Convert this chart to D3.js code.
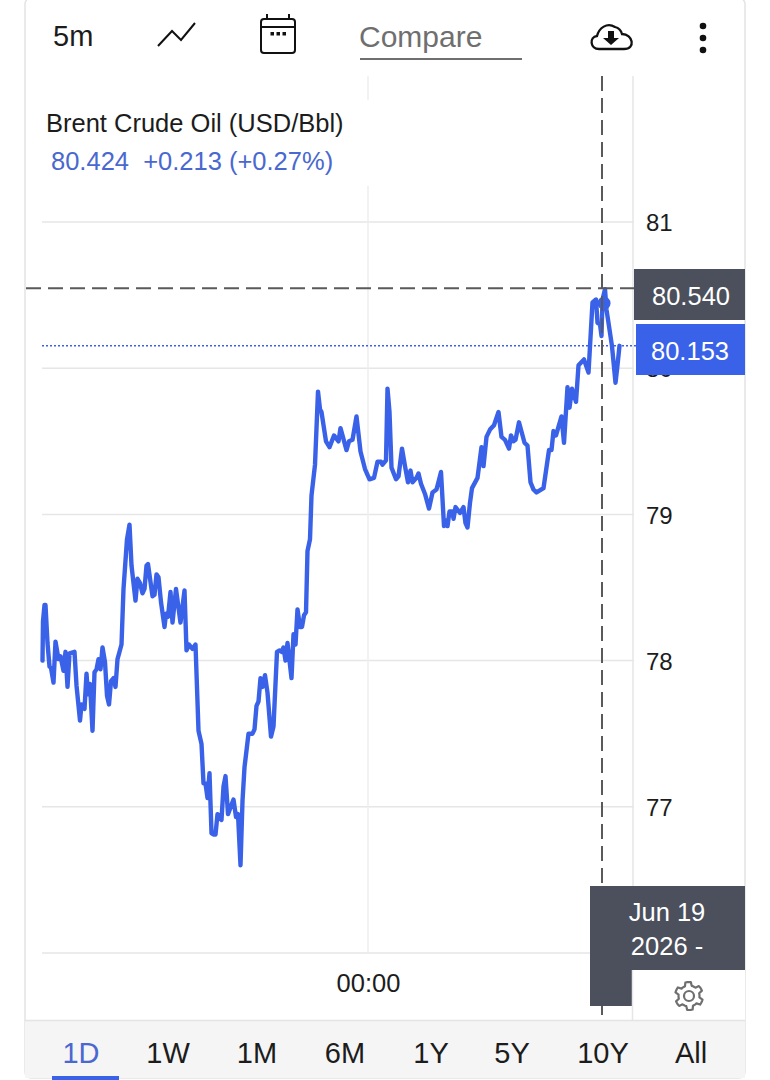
<!DOCTYPE html>
<html><head><meta charset="utf-8">
<script src="https://cdn.jsdelivr.net/npm/d3@7"></script>
<style>
html,body{margin:0;padding:0;background:#fff;overflow:hidden}
svg{display:block}
text{font-family:"Liberation Sans",Arial,sans-serif}
</style></head><body>
<svg id="c" width="770" height="1080"></svg>
<script>
// minutes relative to the 00:00 tick
const minutes = [-651,-650,-647,-645,-641,-637,-634,-629,-625,-619,-615,-609,-605,-601,-597,-587,-583,-576,-573,-567,-563,-560,-556,-551,-547,-543,-539,-535,-531,-526,-522,-518,-514,-509,-505,-501,-493,-489,-482,-477,-473,-465,-461,-456,-451,-447,-443,-440,-431,-427,-423,-419,-414,-407,-404,-400,-395,-391,-384,-375,-367,-363,-358,-351,-345,-339,-333,-329,-325,-321,-317,-313,-309,-305,-301,-293,-289,-285,-280,-269,-264,-260,-255,-251,-247,-239,-231,-227,-223,-219,-215,-211,-206,-201,-194,-189,-182,-177,-173,-169,-165,-161,-153,-149,-145,-141,-136,-132,-128,-124,-121,-116,-113,-106,-100,-96,-93,-84,-77,-68,-59,-55,-43,-38,-31,-23,-15,-6,3,12,19,26,29,36,39,43,47,56,61,68,74,80,85,89,97,101,106,114,122,129,137,140,146,152,156,159,163,169,171,175,184,191,195,199,204,208,219,227,231,237,244,252,261,267,274,282,286,291,295,302,313,319,325,331,337,351,362,367,371,376,387,392,399,403,408,416,421,432,441,449,456,459,464,467,469,474,477,481,488,495,499,503];
const prices = [78.00,78.27,78.38,78.38,78.12,77.96,77.95,77.85,78.13,78.01,78.03,77.93,78.06,77.82,78.05,78.06,77.83,77.59,77.70,77.67,77.91,77.77,77.84,77.52,77.92,77.94,78.01,77.94,78.09,77.99,77.76,77.70,77.86,77.88,77.82,78.01,78.11,78.49,78.83,78.93,78.65,78.41,78.56,78.53,78.46,78.49,78.65,78.66,78.44,78.45,78.59,78.57,78.40,78.23,78.32,78.30,78.47,78.26,78.49,78.26,78.48,78.07,78.11,78.08,78.11,77.52,77.43,77.16,77.16,77.06,77.23,76.82,76.81,76.81,76.95,76.91,77.14,77.21,76.95,77.05,76.93,76.95,76.60,77.04,77.27,77.50,77.50,77.53,77.69,77.72,77.88,77.82,77.90,77.78,77.48,77.55,78.06,78.07,78.06,78.09,78.00,78.12,77.88,78.18,78.11,78.35,78.23,78.23,78.31,78.33,78.75,78.83,79.13,79.34,79.84,79.72,79.70,79.50,79.46,79.54,79.50,79.59,79.44,79.50,79.51,79.67,79.43,79.31,79.24,79.25,79.36,79.36,79.34,79.37,79.86,79.70,79.32,79.24,79.26,79.45,79.33,79.22,79.30,79.22,79.25,79.28,79.21,79.14,79.04,79.15,79.17,79.21,79.29,78.92,78.96,78.92,79.02,79.02,78.97,79.05,79.01,79.05,78.94,78.91,79.08,79.18,79.25,79.46,79.33,79.53,79.58,79.61,79.70,79.53,79.51,79.45,79.54,79.50,79.51,79.63,79.49,79.47,79.22,79.17,79.15,79.18,79.44,79.44,79.57,79.54,79.67,79.49,79.87,79.73,79.86,79.77,80.02,80.06,79.97,80.45,80.47,80.31,80.30,80.22,80.47,80.54,80.40,80.31,80.15,79.90,80.02,80.153];
const yTicks = [76,77,78,79,80,81];
const xTicks = [0];
const xTickLabels = ["00:00"];
const ranges = ["1D","1W","1M","6M","1Y","5Y","10Y","All"];
const rangeCenters = [81,168,257,345,431,512,603,691];
const title = "Brent Crude Oil (USD/Bbl)";
const quote = "80.424  +0.213 (+0.27%)";
const lastPrice = 80.153, hoverPrice = 80.54, hoverMinute = 468, markerMinute = 472, markerPrice = 80.445;
const hoverLines = ["Jun 19","2026 -","00:00"];

const blue="#3a62e8", dark="#4b505c", grid="#e6e6e6", ink="#1c1c1c";
const svg=d3.select("#c");
const x=d3.scaleLinear().domain([-652,532]).range([42,634]);
const y=d3.scaleLinear().domain([76,81]).range([953,222]);

// frame
svg.append("rect").attr("x",25).attr("y",-2).attr("width",720).attr("height",1080).attr("rx",6)
  .attr("fill","#fff").attr("stroke","#e4e4e4").attr("stroke-width",1.5);

// grid
const gGrid=svg.append("g");
gGrid.selectAll(".h").data(yTicks).join("line").attr("x1",42).attr("x2",634)
  .attr("y1",d=>y(d)).attr("y2",d=>y(d)).attr("stroke",grid).attr("stroke-width",1.5);
gGrid.selectAll(".v").data(xTicks).join("line").attr("x1",d=>x(d)).attr("x2",d=>x(d))
  .attr("y1",76).attr("y2",953).attr("stroke","#eeeeee").attr("stroke-width",1.5);
gGrid.append("line").attr("x1",633).attr("x2",633).attr("y1",76).attr("y2",1020).attr("stroke",grid).attr("stroke-width",1.5);

// legend backing and text
svg.append("rect").attr("x",42).attr("y",100).attr("width",330).attr("height",86).attr("fill","#fff");
svg.append("text").attr("x",46).attr("y",132).attr("font-size",25.5).attr("fill",ink).text(title);
svg.append("text").attr("x",51).attr("y",170).attr("font-size",25.5).attr("fill","#4a68cf").attr("xml:space","preserve").style("white-space","pre").text(quote);

// axes
const axR=d3.axisRight(y).tickValues(yTicks.slice(1)).tickSize(0).tickPadding(0).tickFormat(d3.format("d"));
const gY=svg.append("g").attr("transform","translate(646,1)").call(axR);
gY.select(".domain").remove();
gY.selectAll("text").attr("font-size",24).attr("fill",ink).style("font-family",'"Liberation Sans"');
const axB=d3.axisBottom(x).tickValues(xTicks).tickSize(0).tickPadding(0).tickFormat((d,i)=>xTickLabels[i]);
const gX=svg.append("g").attr("transform","translate(0,974)").call(axB);
gX.select(".domain").remove();
gX.selectAll("text").attr("font-size",25.5).attr("fill",ink).style("font-family",'"Liberation Sans"');

// dotted last-price line
svg.append("line").attr("x1",42).attr("x2",636).attr("y1",y(lastPrice)).attr("y2",y(lastPrice))
  .attr("stroke",blue).attr("stroke-width",1.5).attr("stroke-dasharray","2 2");

// series
const line=d3.line().x((d,i)=>x(minutes[i])).y(d=>y(d)).curve(d3.curveLinear);
svg.append("path").datum(prices).attr("d",line).attr("fill","none").attr("stroke",blue)
  .attr("stroke-width",4.4).attr("stroke-linejoin","round").attr("stroke-linecap","round");
svg.append("circle").attr("cx",x(markerMinute)).attr("cy",y(markerPrice)).attr("r",6.5).attr("fill",blue);

// crosshair
svg.append("line").attr("x1",26).attr("x2",634).attr("y1",y(hoverPrice)-1).attr("y2",y(hoverPrice)-1)
  .attr("stroke","#5a5a5a").attr("stroke-width",2).attr("stroke-dasharray","15 7");
svg.append("line").attr("x1",x(hoverMinute)).attr("x2",x(hoverMinute)).attr("y1",76).attr("y2",1020)
  .attr("stroke","#5a5a5a").attr("stroke-width",2).attr("stroke-dasharray","15 7");

// value tags
svg.append("rect").attr("x",634).attr("y",269).attr("width",111).attr("height",51).attr("fill",dark);
svg.append("text").attr("x",691).attr("y",305).attr("text-anchor","middle").attr("font-size",25.5).attr("fill","#fff").text(d3.format(".3f")(hoverPrice));
svg.append("rect").attr("x",636).attr("y",324).attr("width",109).attr("height",51).attr("fill",blue);
svg.append("text").attr("x",690).attr("y",360).attr("text-anchor","middle").attr("font-size",25.5).attr("fill","#fff").text(d3.format(".3f")(lastPrice));

// date tooltip
svg.append("rect").attr("x",590).attr("y",886).attr("width",155).attr("height",84).attr("fill",dark);
svg.append("rect").attr("x",590).attr("y",970).attr("width",42).attr("height",36).attr("fill",dark);
hoverLines.forEach((t,i)=>svg.append("text").attr("x",667).attr("y",921+i*33.5).attr("text-anchor","middle")
  .attr("font-size",25.5).attr("fill","#fff").text(t));
svg.append("rect").attr("x",632).attr("y",970).attr("width",113).attr("height",50).attr("fill","#fff");
svg.append("line").attr("x1",632.5).attr("x2",632.5).attr("y1",970).attr("y2",1020).attr("stroke",grid).attr("stroke-width",1.5);

// gear
const gear=svg.append("g").attr("transform","translate(689,996)").attr("fill","none").attr("stroke","#6f6f6f").attr("stroke-width",2.2).attr("stroke-linejoin","round");
const gearPts=d3.range(0,48).map(i=>{const a=i/48*2*Math.PI,p=((i+2)%8);const r=p<4?14:10.5;return [r*Math.sin(a),-r*Math.cos(a)];});
gear.append("path").attr("d",d3.line().curve(d3.curveLinearClosed)(gearPts));
gear.append("circle").attr("r",5);

// toolbar
svg.append("text").attr("x",53).attr("y",46).attr("font-size",29).attr("fill",ink).text("5m");
svg.append("path").attr("d","M158 46L172 31L181 40L195 23").attr("fill","none").attr("stroke","#111").attr("stroke-width",2);
const cal=svg.append("g").attr("fill","none").attr("stroke","#111").attr("stroke-width",2);
cal.append("rect").attr("x",261).attr("y",19).attr("width",34).attr("height",34).attr("rx",3);
cal.append("line").attr("x1",261).attr("x2",295).attr("y1",27).attr("y2",27);
cal.append("line").attr("x1",267).attr("x2",267).attr("y1",14).attr("y2",19);
cal.append("line").attr("x1",289).attr("x2",289).attr("y1",14).attr("y2",19);
[272,278,284].forEach(px=>svg.append("rect").attr("x",px-1.5).attr("y",32).attr("width",3.5).attr("height",3.5).attr("fill","#111"));
svg.append("text").attr("x",359).attr("y",47).attr("font-size",30).attr("fill","#6f6f6f").text("Compare");
svg.append("line").attr("x1",360).attr("x2",522).attr("y1",59).attr("y2",59).attr("stroke","#6f6f6f").attr("stroke-width",1.8);
svg.append("path").attr("d","M599 49C590 49 589 37 597 36C599 28 607 22 615 27C619 28 621 30 622 34C633 34 636 49 624 49Z")
  .attr("fill","none").attr("stroke","#111").attr("stroke-width",2.3);
svg.append("path").attr("d","M608 31H614V38H619L611 45L603 38H608Z").attr("fill","#111");
[26,38,50].forEach(cy=>svg.append("circle").attr("cx",703).attr("cy",cy).attr("r",3.3).attr("fill","#111"));

// range bar
svg.append("rect").attr("x",25).attr("y",1020).attr("width",720).attr("height",58).attr("fill","#f5f5f5");
svg.append("line").attr("x1",25).attr("x2",745).attr("y1",1020.5).attr("y2",1020.5).attr("stroke","#e4e4e4").attr("stroke-width",1.5);
svg.selectAll(".rng").data(ranges).join("text").attr("x",(d,i)=>rangeCenters[i]).attr("y",1063)
  .attr("text-anchor","middle").attr("font-size",29).attr("fill",(d,i)=>i===0?"#4a68cf":ink).text(d=>d);
svg.append("rect").attr("x",52).attr("y",1076).attr("width",67).attr("height",4).attr("fill",blue);
</script>
</body></html>
